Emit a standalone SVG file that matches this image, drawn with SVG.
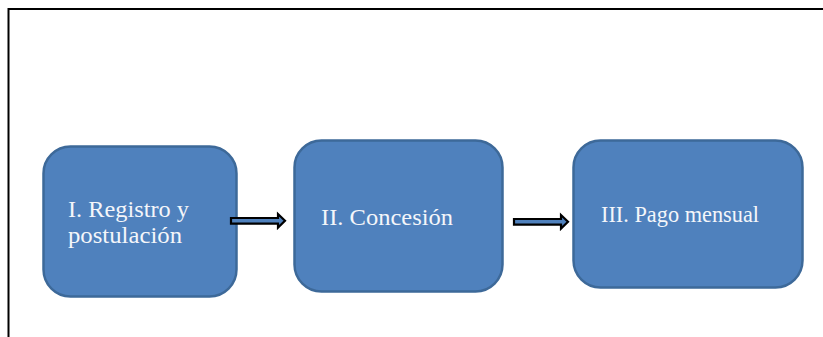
<svg xmlns="http://www.w3.org/2000/svg" width="823" height="337" viewBox="0 0 823 337">
<defs>
<style>
.box{fill:#4f81bd;stroke:#3d6999;stroke-width:2.5}
.lbl{font-family:"Liberation Serif","Times New Roman",serif;font-size:23px;fill:#f4f6fa}
.arr{fill:#4f81bd;stroke:#000;stroke-width:2.2;stroke-linejoin:miter}
</style>
</defs>
<rect width="823" height="337" fill="#fff"/>
<g id="frame">
<path d="M8.5 337 V9 H823" fill="none" stroke="#000" stroke-width="2"/>
</g>
<g id="node1">
<rect class="box" x="43.5" y="146.5" width="193" height="150" rx="27"/>
<text class="lbl" x="68" y="217" textLength="121" lengthAdjust="spacingAndGlyphs">I. Registro y</text>
<text class="lbl" x="68" y="243" textLength="114" lengthAdjust="spacingAndGlyphs">postulación</text>
</g>
<g id="node2">
<rect class="box" x="294.5" y="140.5" width="208" height="151" rx="27"/>
<text class="lbl" x="321" y="225" textLength="132" lengthAdjust="spacingAndGlyphs">II. Concesión</text>
</g>
<g id="node3">
<rect class="box" x="573.5" y="140.5" width="229" height="147" rx="27"/>
<text class="lbl" x="601" y="222" textLength="158" lengthAdjust="spacingAndGlyphs">III. Pago mensual</text>
</g>
<g id="connectors">
<path class="arr" d="M231 218 H278 V214 L285 220.8 L278 227.6 V223.6 H231 Z"/>
<path class="arr" d="M514 219 H561 V215 L568 221.8 L561 228.6 V224.6 H514 Z"/>
</g>
</svg>
